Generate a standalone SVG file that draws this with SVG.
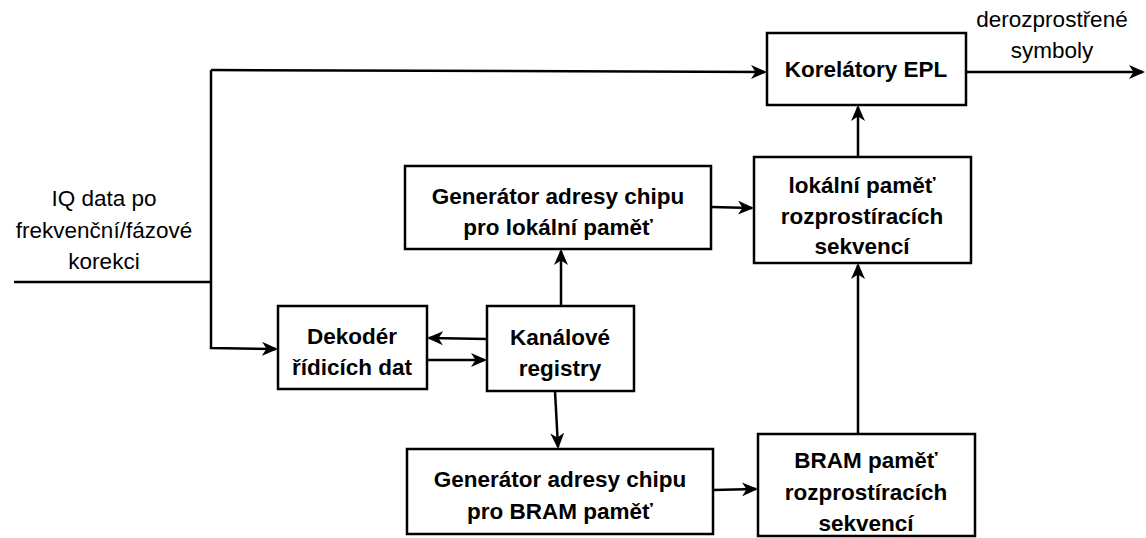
<svg xmlns="http://www.w3.org/2000/svg" width="1146" height="538" viewBox="0 0 1146 538">
<style>
.box{fill:#fff;stroke:#000;stroke-width:2.5}
.ln{fill:none;stroke:#000;stroke-width:2.5;marker-end:url(#ah)}
.ln0{fill:none;stroke:#000;stroke-width:2.5}
.t{font-family:"Liberation Sans",Arial,sans-serif;font-size:22.5px;font-weight:bold;text-anchor:middle;fill:#000}
.l{font-family:"Liberation Sans",Arial,sans-serif;font-size:22.5px;text-anchor:middle;fill:#000}
</style>
<defs>
<marker id="ah" viewBox="0 0 16 14" refX="14" refY="7" markerWidth="16" markerHeight="14" markerUnits="userSpaceOnUse" orient="auto">
<path d="M0,0 L16,7 L0,14 L4.5,7 Z" fill="#000"/>
</marker>
</defs>
<rect width="1146" height="538" fill="#fff"/>
<g id="connectors">
<path class="ln0" d="M14,282 L211,282"/>
<path class="ln" d="M211,70 L765,72"/>
<path class="ln" d="M211,70 L211,348 L276,349"/>
<path class="ln" d="M966,72 L1143,72"/>
<path class="ln" d="M487,339 L429,338"/>
<path class="ln" d="M427,360 L485,360"/>
<path class="ln" d="M561,306 L561,251"/>
<path class="ln" d="M555,391 L558,447"/>
<path class="ln" d="M711,207 L752,208"/>
<path class="ln" d="M713,490 L756,489"/>
<path class="ln" d="M858,157 L858,107"/>
<path class="ln" d="M858,434 L858,265"/>
</g>
<g id="label-in">
<text class="l" x="104" y="206">IQ data po</text>
<text class="l" x="104" y="238">frekvenční/fázové</text>
<text class="l" x="104" y="269">korekci</text>
</g>
<g id="label-out">
<text class="l" x="1052" y="27">derozprostřené</text>
<text class="l" x="1052" y="58">symboly</text>
</g>
<g id="korelatory">
<rect class="box" x="767" y="33" width="199" height="72"/>
<text class="t" x="866" y="77">Korelátory EPL</text>
</g>
<g id="lokalni-pamet">
<rect class="box" x="754" y="157" width="217" height="106"/>
<text class="t" x="862" y="193">lokální paměť</text>
<text class="t" x="862" y="224">rozprostíracích</text>
<text class="t" x="862" y="254">sekvencí</text>
</g>
<g id="gen-lokalni">
<rect class="box" x="405" y="166" width="306" height="83"/>
<text class="t" x="558" y="204">Generátor adresy chipu</text>
<text class="t" x="558" y="235">pro lokální paměť</text>
</g>
<g id="dekoder">
<rect class="box" x="278" y="306" width="149" height="83"/>
<text class="t" x="352" y="344">Dekodér</text>
<text class="t" x="352" y="375">řídicích dat</text>
</g>
<g id="kanalove">
<rect class="box" x="487" y="306" width="147" height="85"/>
<text class="t" x="560" y="345">Kanálové</text>
<text class="t" x="560" y="376">registry</text>
</g>
<g id="gen-bram">
<rect class="box" x="407" y="449" width="306" height="85"/>
<text class="t" x="560" y="487">Generátor adresy chipu</text>
<text class="t" x="560" y="519">pro BRAM paměť</text>
</g>
<g id="bram-pamet">
<rect class="box" x="758" y="434" width="217" height="102"/>
<text class="t" x="866" y="468">BRAM paměť</text>
<text class="t" x="866" y="500">rozprostíracích</text>
<text class="t" x="866" y="531">sekvencí</text>
</g>
</svg>
